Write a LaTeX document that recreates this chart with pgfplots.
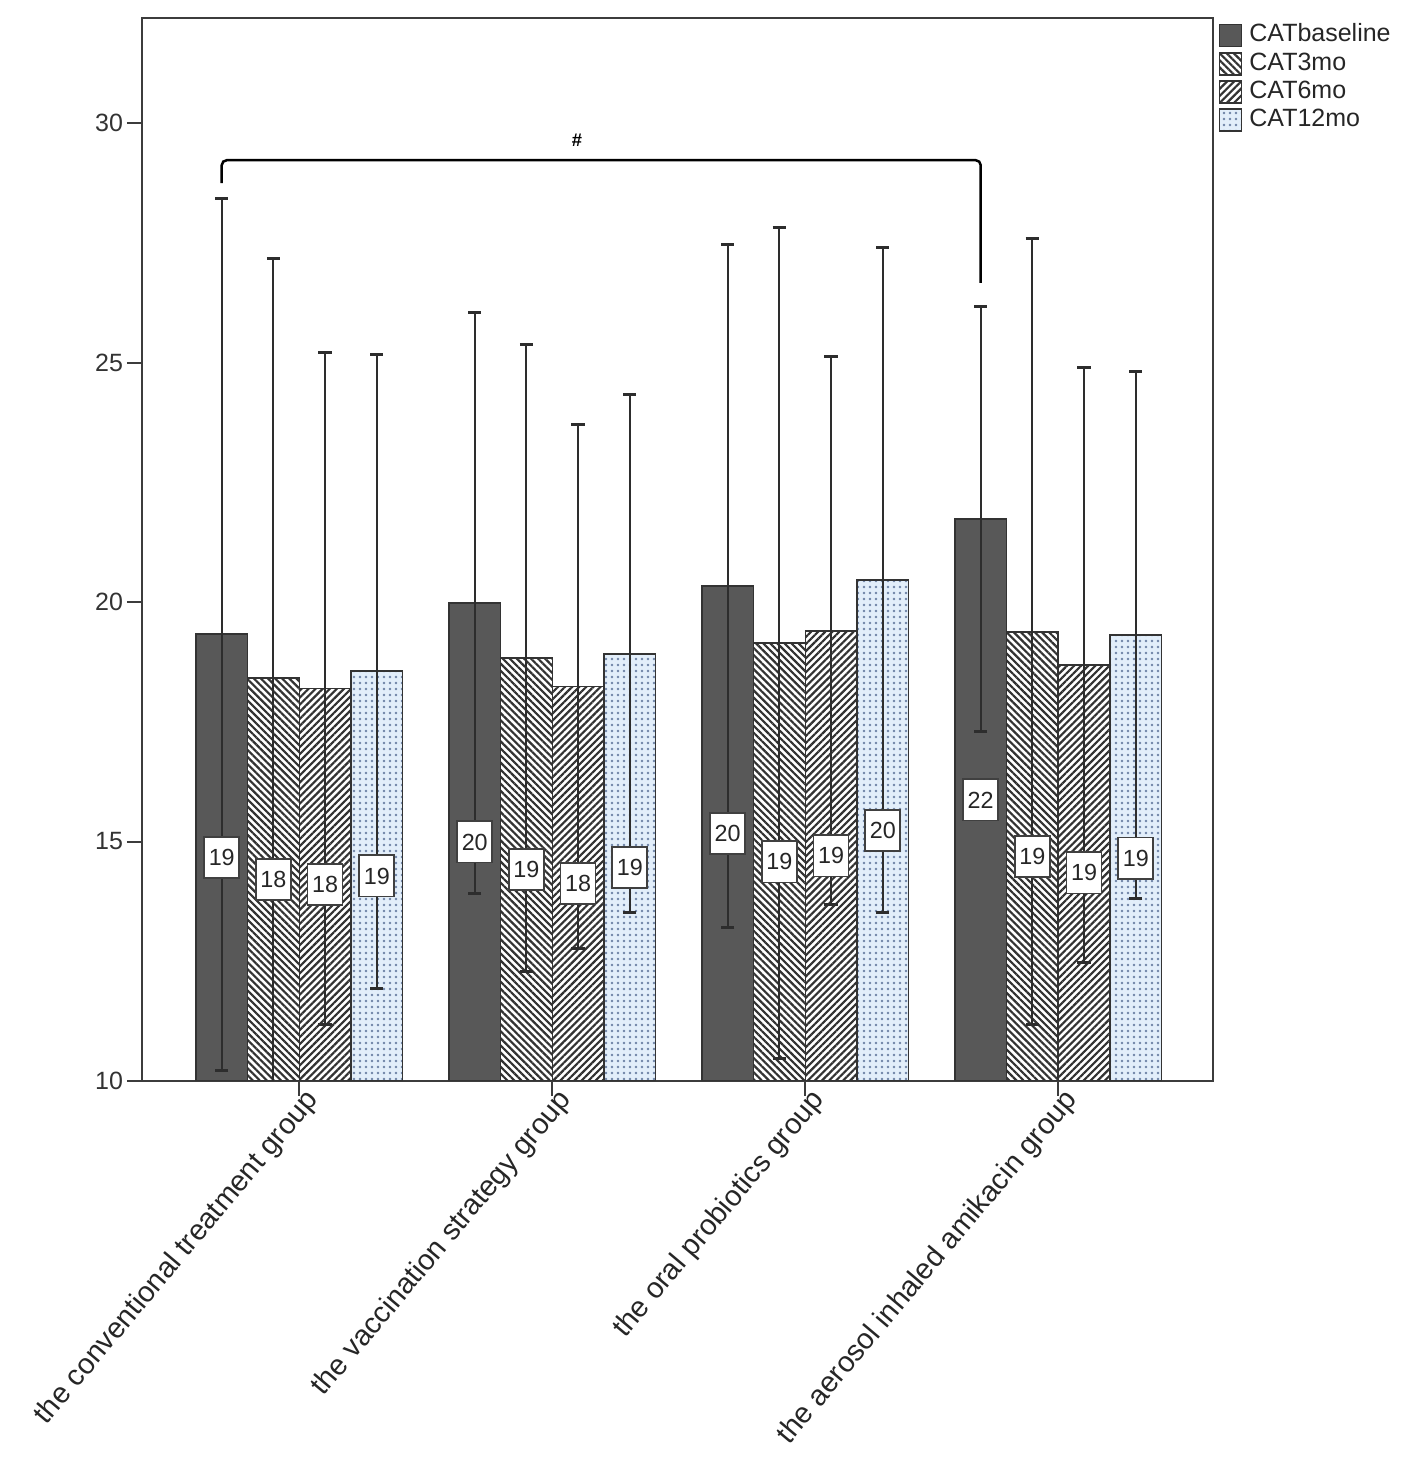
\documentclass[border=0pt]{standalone}
\usepackage{pgfplots}
\pgfplotsset{compat=1.18}
\usepackage{pgfplotstable}
\usepackage{fontspec}
\setmainfont{Liberation Sans}
\usetikzlibrary{patterns.meta}

\definecolor{darkbar}{RGB}{88,88,88}
\definecolor{hatch}{RGB}{50,50,50}
\definecolor{lblue}{RGB}{226,238,250}
\definecolor{dotc}{RGB}{110,130,165}
\definecolor{axc}{RGB}{60,60,60}
\definecolor{errc}{RGB}{45,45,45}

\pgfplotstableread{
g mean err lab
0 19.33 9.11 19
1 19.98 6.06 20
2 20.34 7.13 20
3 21.74 4.44 22
}\tbase
\pgfplotstableread{
g mean err lab
0 18.41 8.76 18
1 18.83 6.55 19
2 19.15 8.68 19
3 19.38 8.21 19
}\tthree
\pgfplotstableread{
g mean err lab
0 18.20 7.02 18
1 18.24 5.48 18
2 19.40 5.72 19
3 18.69 6.21 19
}\tsix
\pgfplotstableread{
g mean err lab
0 18.56 6.62 19
1 18.92 5.41 19
2 20.46 6.95 20
3 19.31 5.50 19
}\ttwelve

\pgfplotsset{
  barbase/.style={ybar, bar width=0.2043, bar shift=0pt, draw=black!80, line width=0.45pt,
    legend image code/.code={\draw[##1,line width=0.5pt] (0pt,-3.3pt) rectangle (6.6pt,3.3pt);},
    error bars/y dir=both, error bars/y explicit, error bars/error mark=|,
    error bars/error bar style={line width=0.6pt, color=errc},
    error bars/error mark options={line width=0.9pt, mark size=2pt, color=errc}},
  lblplot/.style={draw=none, mark=none, forget plot, nodes near coords, point meta=explicit symbolic,
    every node near coord/.append style={anchor=center, fill=white, draw=black!75, line width=0.5pt,
      inner sep=0pt, minimum width=10.5pt, minimum height=12.4pt, text=black!85,
      font=\fontsize{7}{8}\selectfont}},
}

\begin{document}
\begin{tikzpicture}
\path[use as bounding box] (-42.6pt,-112.83pt) rectangle (382.5pt,324.27pt);
\begin{axis}[
  at={(0,0)}, anchor=south west,
  scale only axis, width=321.3pt, height=318.87pt,
  xmin=-0.6217, xmax=3.6117, ymin=10, ymax=32.2,
  axis line style={axc, line width=0.6pt},
  tick style={axc, line width=0.6pt},
  tick align=outside, tick pos=left,
  major tick length=4.5pt,
  xtick={0,1,2,3},
  xticklabels={the conventional treatment group, the vaccination strategy group, the oral probiotics group, the aerosol inhaled amikacin group},
  xticklabel style={rotate=50, anchor=north east, font=\fontsize{8.7}{10}\selectfont, inner sep=0pt, yshift=1pt, xshift=3pt, text=black!85},
  ytick={10,15,20,25,30},
  yticklabel style={font=\fontsize{7.5}{9}\selectfont, inner sep=1pt, text=black!80},
  /pgf/number format/assume math mode=true,
  legend style={at={(1.0047,0.997)}, anchor=north west, draw=none, fill=none,
    font=\fontsize{7.5}{9}\selectfont, inner sep=0pt, row sep=0.5pt,
    nodes={inner sep=0.6pt, anchor=west, text=black!85}},
  legend cell align=left,
]
\addplot[barbase, fill=darkbar] table[x expr=\thisrow{g}-0.3065, y=mean, y error=err] {\tbase};
\addlegendentry{\hspace{1.5pt}CATbaseline}
\addplot[barbase, pattern={Lines[angle=-45, distance=1.5pt, line width=0.65pt]}, pattern color=hatch] table[x expr=\thisrow{g}-0.1022, y=mean, y error=err] {\tthree};
\addlegendentry{\hspace{1.5pt}CAT3mo}
\addplot[barbase, pattern={Lines[angle=45, distance=1.5pt, line width=0.65pt]}, pattern color=hatch] table[x expr=\thisrow{g}+0.1022, y=mean, y error=err] {\tsix};
\addlegendentry{\hspace{1.5pt}CAT6mo}
\addplot[barbase, fill=lblue, postaction={pattern={Dots[distance=1.8pt, radius=0.4pt]}, pattern color=dotc}] table[x expr=\thisrow{g}+0.3065, y=mean, y error=err] {\ttwelve};
\addlegendentry{\hspace{1.5pt}CAT12mo}

\addplot[lblplot] table[x expr=\thisrow{g}-0.3065, y expr=(\thisrow{mean}+10)/2, meta=lab] {\tbase};
\addplot[lblplot] table[x expr=\thisrow{g}-0.1022, y expr=(\thisrow{mean}+10)/2, meta=lab] {\tthree};
\addplot[lblplot] table[x expr=\thisrow{g}+0.1022, y expr=(\thisrow{mean}+10)/2, meta=lab] {\tsix};
\addplot[lblplot] table[x expr=\thisrow{g}+0.3065, y expr=(\thisrow{mean}+10)/2, meta=lab] {\ttwelve};

\addplot[black, line width=0.75pt, rounded corners=1.5pt, forget plot] coordinates {(-0.3065,28.75) (-0.3065,29.23) (2.6935,29.23) (2.6935,26.67)};
\node[font=\bfseries\fontsize{5.5}{6}\selectfont, text=black] at (axis cs:1.098,29.65) {\#};
\end{axis}
\end{tikzpicture}
\end{document}
